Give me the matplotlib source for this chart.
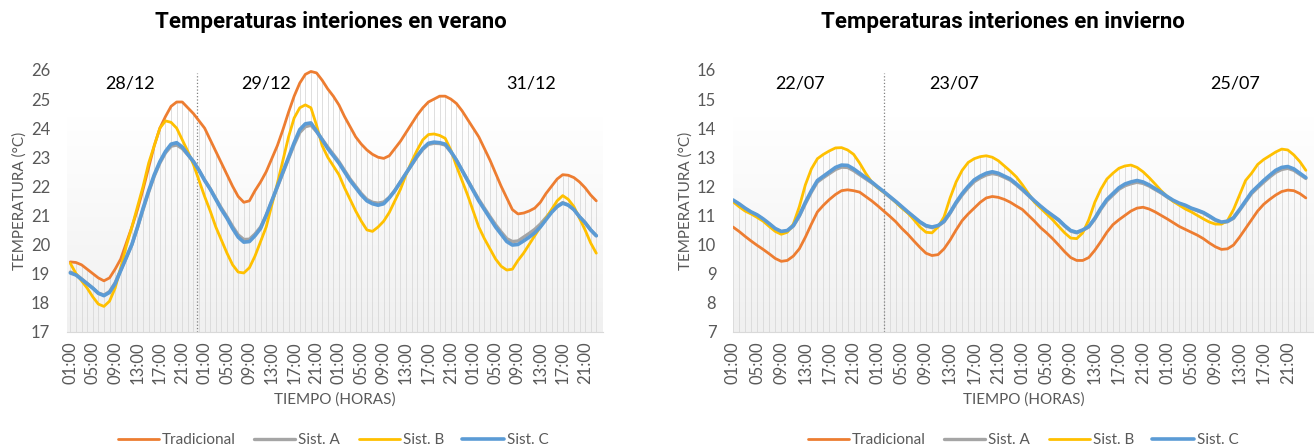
import numpy as np
import matplotlib
matplotlib.use('Agg')
import matplotlib.pyplot as plt
from matplotlib.colors import LinearSegmentedColormap

plt.rcParams['font.family'] = ['Lato', 'DejaVu Sans']

# Etiquetas del eje X (cada 4 horas, 4 días)
etiquetas_horas = ['01:00', '05:00', '09:00', '13:00', '17:00', '21:00'] * 4
series = ['Tradicional', 'Sist. A', 'Sist. B', 'Sist. C']
colores = ['#ED7D31', '#A5A5A5', '#FFC000', '#5B9BD5']

# ---- Verano (valores horarios) ----
dias_verano = ['28/12', '29/12', '31/12']
verano_trad = [
    19.4, 19.38, 19.3, 19.15, 19.0, 18.85, 18.75, 18.85, 19.15, 19.5, 20.05, 20.6,
    21.2, 21.9, 22.65, 23.4, 24.0, 24.4, 24.75, 24.9, 24.9, 24.7, 24.5, 24.25,
    24.0, 23.6, 23.2, 22.8, 22.4, 22.0, 21.65, 21.45, 21.5, 21.85, 22.15, 22.5,
    22.95, 23.4, 23.95, 24.55, 25.1, 25.55, 25.85, 25.95, 25.9, 25.65, 25.35, 25.1,
    24.8, 24.4, 24.05, 23.7, 23.45, 23.25, 23.1, 23.0, 22.96, 23.05, 23.3, 23.55,
    23.85, 24.15, 24.45, 24.7, 24.9, 25.0, 25.1, 25.1, 25.0, 24.85, 24.6, 24.3,
    24.0, 23.7, 23.3, 22.9, 22.45, 22.0, 21.6, 21.2, 21.05, 21.08, 21.15, 21.25,
    21.45, 21.75, 22.0, 22.25, 22.4, 22.38, 22.3, 22.15, 21.95, 21.7, 21.5,
]
verano_a = [
    19.05, 18.97, 18.82, 18.66, 18.5, 18.33, 18.26, 18.38, 18.68, 19.12, 19.55, 20.0,
    20.58, 21.2, 21.8, 22.35, 22.8, 23.15, 23.38, 23.42, 23.3, 23.08, 22.85, 22.55,
    22.22, 21.92, 21.58, 21.25, 20.95, 20.62, 20.33, 20.17, 20.18, 20.36, 20.6, 21.0,
    21.48, 21.97, 22.46, 22.95, 23.43, 23.85, 24.05, 24.1, 23.88, 23.62, 23.35, 23.1,
    22.85, 22.55, 22.25, 22.0, 21.75, 21.55, 21.45, 21.42, 21.46, 21.62, 21.86, 22.15,
    22.44, 22.73, 23.02, 23.27, 23.44, 23.48, 23.47, 23.42, 23.18, 22.9, 22.56, 22.22,
    21.88, 21.55, 21.25, 20.96, 20.68, 20.43, 20.2, 20.1, 20.12, 20.25, 20.38, 20.52,
    20.7, 20.92, 21.14, 21.32, 21.44, 21.36, 21.2, 20.96, 20.75, 20.5, 20.3,
]
verano_b = [
    19.35, 19.0, 18.75, 18.5, 18.2, 17.95, 17.87, 18.05, 18.5, 19.2, 19.95, 20.6,
    21.3, 22.0, 22.8, 23.4, 24.0, 24.25, 24.2, 24.0, 23.6, 23.2, 22.75, 22.2,
    21.65, 21.15, 20.6, 20.15, 19.7, 19.3, 19.05, 19.02, 19.2, 19.6, 20.1, 20.6,
    21.35, 22.1, 22.9, 23.7, 24.35, 24.7, 24.8, 24.7, 24.1, 23.4, 23.0, 22.7,
    22.4, 21.95, 21.55, 21.15, 20.8, 20.5, 20.45, 20.6, 20.8, 21.1, 21.5, 21.9,
    22.4, 22.85, 23.25, 23.6, 23.78, 23.8, 23.75, 23.65, 23.25, 22.7, 22.2, 21.7,
    21.15, 20.6, 20.2, 19.85, 19.5, 19.25, 19.12, 19.15, 19.45, 19.7, 20.0, 20.3,
    20.6, 20.9, 21.2, 21.5, 21.68, 21.55, 21.3, 20.9, 20.5, 20.05, 19.7,
]
verano_c = [
    19.02, 18.95, 18.8, 18.65, 18.5, 18.32, 18.24, 18.35, 18.65, 19.1, 19.55, 20.0,
    20.6, 21.25, 21.85, 22.4, 22.85, 23.2, 23.45, 23.5, 23.35, 23.1, 22.85, 22.55,
    22.2, 21.9, 21.55, 21.2, 20.9, 20.55, 20.25, 20.08, 20.1, 20.3, 20.55, 21.0,
    21.5, 22.0, 22.5, 23.0, 23.5, 23.95, 24.15, 24.18, 23.9, 23.6, 23.3, 23.05,
    22.8, 22.5, 22.2, 21.95, 21.7, 21.5, 21.4, 21.35, 21.4, 21.6, 21.85, 22.15,
    22.45, 22.75, 23.05, 23.3, 23.48, 23.52, 23.5, 23.45, 23.2, 22.9, 22.55, 22.2,
    21.85, 21.5, 21.2, 20.9, 20.6, 20.35, 20.1, 19.98, 20.0, 20.12, 20.25, 20.4,
    20.6, 20.85, 21.1, 21.3, 21.42, 21.35, 21.2, 20.95, 20.75, 20.5, 20.3,
]

# ---- Invierno ----
dias_invierno = ['22/07', '23/07', '25/07']
invierno_trad = [
    10.6, 10.45, 10.28, 10.12, 9.97, 9.83, 9.68, 9.52, 9.42, 9.45, 9.6, 9.85,
    10.25, 10.7, 11.12, 11.35, 11.55, 11.72, 11.85, 11.88, 11.85, 11.8, 11.65, 11.5,
    11.33, 11.15, 10.97, 10.78, 10.55, 10.35, 10.12, 9.9, 9.7, 9.62, 9.65, 9.85,
    10.15, 10.5, 10.82, 11.05, 11.25, 11.45, 11.6, 11.65, 11.62, 11.55, 11.45, 11.32,
    11.2, 11.0, 10.8, 10.58, 10.4, 10.2, 9.98, 9.75, 9.55, 9.45, 9.45, 9.55,
    9.8, 10.1, 10.42, 10.68, 10.85, 11.0, 11.15, 11.25, 11.28, 11.22, 11.12, 11.0,
    10.88, 10.75, 10.62, 10.52, 10.42, 10.32, 10.2, 10.05, 9.92, 9.83, 9.85, 9.98,
    10.25, 10.55, 10.85, 11.15, 11.38, 11.55, 11.7, 11.82, 11.87, 11.85, 11.75, 11.6,
]
invierno_a = [
    11.5, 11.38, 11.23, 11.1, 11.0, 10.86, 10.7, 10.53, 10.43, 10.46, 10.63, 10.97,
    11.4, 11.8, 12.15, 12.3, 12.44, 12.58, 12.66, 12.65, 12.54, 12.4, 12.26, 12.12,
    11.96, 11.8, 11.63, 11.46, 11.28, 11.1, 10.93, 10.76, 10.63, 10.58, 10.63, 10.78,
    11.07, 11.41, 11.7, 11.95, 12.16, 12.29, 12.39, 12.44, 12.4, 12.31, 12.21, 12.05,
    11.87, 11.68, 11.48, 11.3, 11.13, 10.98, 10.83, 10.63, 10.46, 10.4, 10.48, 10.6,
    10.87, 11.21, 11.5, 11.7, 11.9, 12.02, 12.09, 12.14, 12.1, 12.01, 11.89, 11.77,
    11.63, 11.5, 11.4, 11.33, 11.23, 11.16, 11.08, 10.96, 10.83, 10.75, 10.78, 10.9,
    11.17, 11.46, 11.75, 11.95, 12.14, 12.32, 12.48, 12.58, 12.62, 12.55, 12.41, 12.27,
]
invierno_b = [
    11.47, 11.3, 11.15, 11.05, 10.93, 10.8, 10.62, 10.45, 10.35, 10.42, 10.7, 11.3,
    12.05, 12.6, 12.95, 13.1, 13.22, 13.32, 13.33, 13.25, 13.1, 12.8, 12.45, 12.15,
    11.95, 11.8, 11.65, 11.45, 11.25, 11.08, 10.85, 10.6, 10.42, 10.4, 10.6, 10.95,
    11.6, 12.15, 12.55, 12.82, 12.95, 13.02, 13.05, 13.0, 12.88, 12.7, 12.52, 12.32,
    12.05, 11.75, 11.45, 11.25, 11.05, 10.85, 10.62, 10.4, 10.22, 10.2, 10.4, 10.85,
    11.45, 11.9, 12.25, 12.45, 12.62, 12.7, 12.73, 12.65, 12.5, 12.3, 12.08, 11.85,
    11.65, 11.48, 11.35, 11.22, 11.12, 11.0, 10.88, 10.77, 10.7, 10.7, 10.82, 11.2,
    11.7, 12.2, 12.45, 12.75, 12.92, 13.05, 13.18, 13.28, 13.25, 13.08, 12.85, 12.55,
]
invierno_c = [
    11.53, 11.4, 11.25, 11.12, 11.02, 10.88, 10.72, 10.55, 10.45, 10.48, 10.65, 11.0,
    11.45, 11.85, 12.2, 12.35, 12.5, 12.65, 12.73, 12.72, 12.6, 12.45, 12.3, 12.15,
    11.98, 11.82, 11.65, 11.48, 11.3, 11.12, 10.95, 10.78, 10.65, 10.6, 10.65, 10.8,
    11.1, 11.45, 11.75, 12.0, 12.22, 12.35, 12.45, 12.5, 12.45, 12.35, 12.25, 12.08,
    11.9, 11.7, 11.5, 11.32, 11.15, 11.0, 10.85, 10.65, 10.48, 10.42, 10.5, 10.62,
    10.9, 11.25, 11.55, 11.75, 11.95, 12.08, 12.15, 12.2, 12.15, 12.05, 11.92, 11.8,
    11.65, 11.52, 11.42, 11.35, 11.25, 11.18, 11.1, 10.98, 10.85, 10.77, 10.8, 10.92,
    11.2, 11.5, 11.8, 12.0, 12.2, 12.38, 12.55, 12.65, 12.68, 12.6, 12.45, 12.3,
]


def dibujar(ax, datos, dias, pos_dias, y_dias, ymin, ymax, y_grad, x_sep, xlim):
    n = len(datos[0])
    x = np.arange(n)
    ax.set_facecolor('white')

    # fondo degradado
    grad = np.linspace(0, 1, 200).reshape(-1, 1)
    cmap = LinearSegmentedColormap.from_list('g', ['#ffffff', '#f0f0f0'])
    ax.imshow(grad, extent=[xlim[0], xlim[1], ymin, y_grad], aspect='auto',
              cmap=cmap, origin='upper', zorder=0)

    # lineas de proyeccion
    tope = np.max(np.array(datos), axis=0)
    ax.vlines(x, ymin, tope, color='#d9d9d9', linewidth=0.6, zorder=1)

    # separador de dias
    ax.axvline(x_sep, ymax=0.99, color='#808080', linestyle=':', linewidth=0.9, zorder=1)

    anchos = [2.0, 2.4, 2.0, 2.6]
    for serie, nombre, color, lw in zip(datos, series, colores, anchos):
        ax.plot(x, serie, color=color, linewidth=lw, label=nombre,
                solid_capstyle='round', zorder=3)

    for d, px in zip(dias, pos_dias):
        ax.text(px, y_dias, d, ha='center', va='center', fontsize=13, color='black')

    ax.set_xlim(*xlim)
    ax.set_ylim(ymin, ymax)
    ax.set_yticks(range(ymin, ymax + 1))
    ax.set_xticks(x[::4])
    ax.set_xticklabels(etiquetas_horas[:len(x[::4])], rotation=90)
    ax.tick_params(axis='both', length=0, labelsize=12, colors='#595959')
    ax.tick_params(axis='y', pad=12)
    ax.tick_params(axis='x', pad=7)
    for lado in ['top', 'right', 'left']:
        ax.spines[lado].set_visible(False)
    ax.spines['bottom'].set_color('#d9d9d9')
    ax.set_ylabel('TEMPERATURA (°C)', fontsize=11, color='#595959', labelpad=3)
    ax.set_xlabel('TIEMPO (HORAS)', fontsize=11, color='#595959', labelpad=6)


fig = plt.figure(figsize=(13.14, 4.47), dpi=100)
ax1 = fig.add_axes([67 / 1314, (447 - 331.7) / 447, 536 / 1314, 261.7 / 447])
ax2 = fig.add_axes([733 / 1314, (447 - 331.7) / 447, 581 / 1314, 261.7 / 447])

dibujar(ax1, [verano_trad, verano_a, verano_b, verano_c],
        dias_verano, [10.6, 35.0, 82.4], 25.52, 17, 26, 24.4, 22.6, (-0.6, 95.2))
dibujar(ax2, [invierno_trad, invierno_a, invierno_b, invierno_c],
        dias_invierno, [11.1, 36.6, 83.2], 15.54, 7, 16, 14.4, 25.0, (0, 96.35))

fig.text(331 / 1314, 1 - 22 / 447, 'Temperaturas interiones en verano', ha='center', va='center',
         fontsize=16, fontweight='bold', family=['Roboto', 'DejaVu Sans'])
fig.text(1003 / 1314, 1 - 22 / 447, 'Temperaturas interiones en invierno', ha='center', va='center',
         fontsize=16, fontweight='bold', family=['Roboto', 'DejaVu Sans'])

for ax, cx in [(ax1, 333 / 1314), (ax2, 1023 / 1314)]:
    ax.legend(loc='center', bbox_to_anchor=(cx, 1 - 440 / 447), bbox_transform=fig.transFigure,
              ncol=4, frameon=False, fontsize=11, handlelength=2.7, handletextpad=0.2,
              columnspacing=1.2, labelcolor='#595959')

fig.savefig('out.png', dpi=100)
